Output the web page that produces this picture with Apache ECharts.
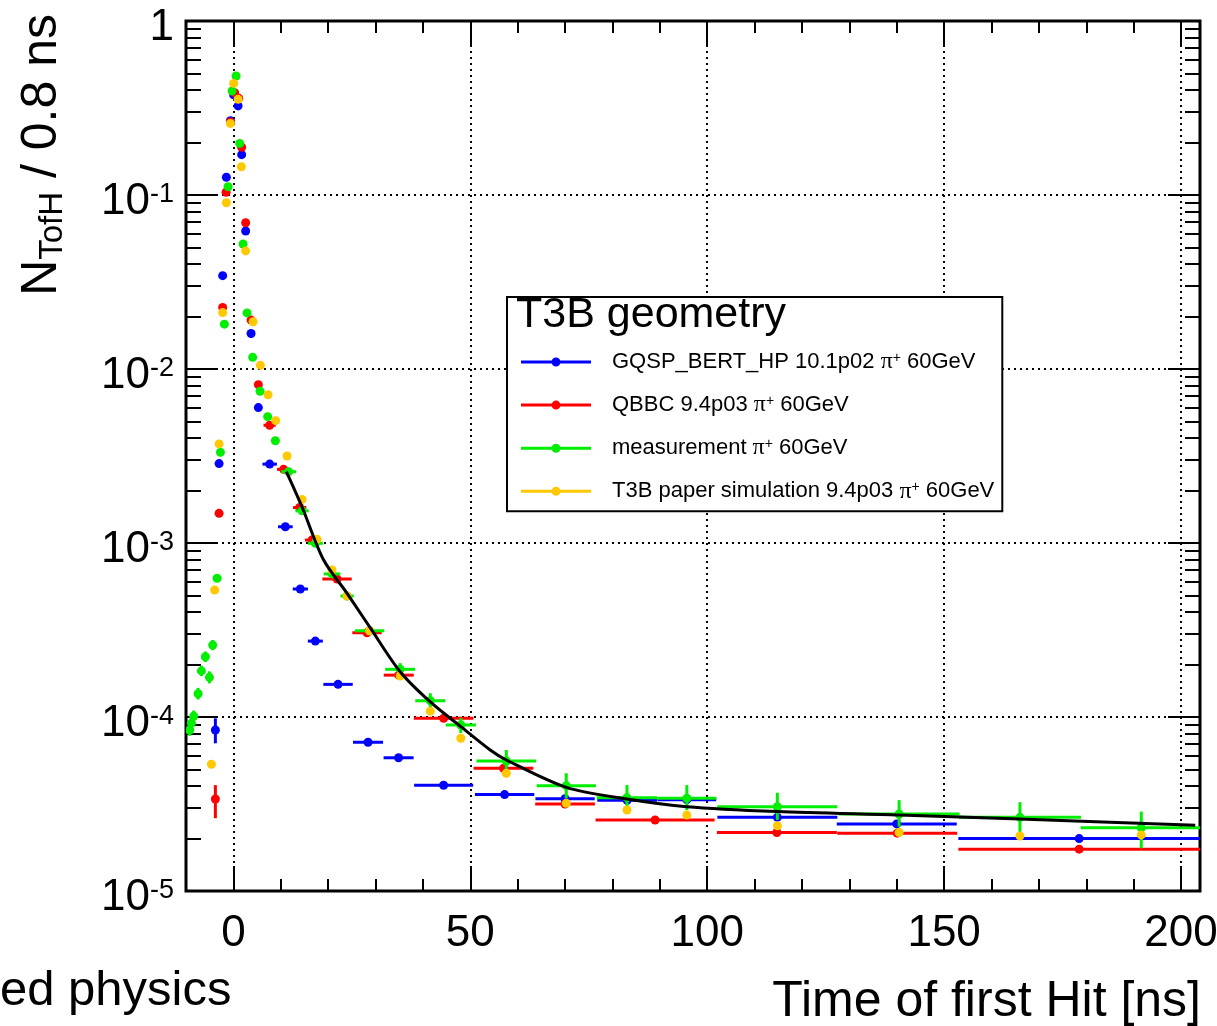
<!DOCTYPE html>
<html>
<head>
<meta charset="utf-8">
<script src="https://cdn.jsdelivr.net/npm/echarts@6/dist/echarts.min.js"></script>
<style>
html,body{margin:0;padding:0;background:#fff;}
#chart{width:1217px;height:1026px;}
</style>
</head>
<body>
<div id="chart"></div>
<script>
// ---- data: [time ns, N, x half-width, y low, y high] ----
const seriesNames = [
  'GQSP_BERT_HP 10.1p02 π⁺ 60GeV',
  'QBBC 9.4p03 π⁺ 60GeV',
  'measurement π⁺ 60GeV',
  'T3B paper simulation 9.4p03 π⁺ 60GeV'
];
const seriesColors = ['#0000ff', '#ff0000', '#00ee00', '#ffc800'];

const gqspData = [
  [-3.80, 8.42e-5, 0, 7.06e-5, 9.83e-5],
  [-3.02, 2.86e-3], [-2.26, 3.44e-2], [-1.48, 0.1264], [-0.63, 0.267],
  [0.06, 0.376], [0.99, 0.325], [1.75, 0.1705], [2.59, 0.0621],
  [3.73, 0.0160], [5.27, 6.0e-3],
  [7.66, 2.84e-3, 1.52], [10.97, 1.24e-3, 1.54], [14.13, 5.44e-4, 1.6],
  [17.3, 2.73e-4, 1.58], [22.09, 1.54e-4, 3.1], [28.42, 7.16e-5, 3.17],
  [34.87, 5.83e-5, 3.17], [44.37, 4.05e-5, 6.23], [57.24, 3.58e-5, 6.26],
  [70.0, 3.39e-5, 6.26], [83.1, 3.32e-5, 6.3], [95.7, 3.35e-5, 6.2],
  [114.8, 2.65e-5, 12.66], [140.0, 2.43e-5, 12.66], [178.5, 2.0e-5, 25.5]
];
const qbbcData = [
  [-3.80, 3.38e-5, 0, 2.62e-5, 4.06e-5],
  [-3.02, 1.48e-3], [-2.26, 2.26e-2], [-1.54, 0.1037], [-0.63, 0.263],
  [0.27, 0.387], [1.12, 0.36], [1.75, 0.188], [2.59, 0.0693],
  [3.73, 0.0191], [5.27, 8.13e-3],
  [7.66, 4.75e-3, 1.3], [10.6, 2.65e-3, 1.4], [13.99, 1.60e-3, 1.4],
  [16.6, 1.04e-3, 1.5], [21.88, 6.21e-4, 3.1], [28.2, 3.05e-4, 3.1],
  [34.9, 1.74e-4, 3.17], [44.37, 9.83e-5, 6.3], [57.0, 5.07e-5, 6.3],
  [70.0, 3.16e-5, 6.3], [89.0, 2.56e-5, 12.56], [114.7, 2.17e-5, 12.66],
  [140.1, 2.15e-5, 12.66], [178.5, 1.74e-5, 25.5]
];
const measurementData = [
  [-9.22, 8.42e-5, 0, 7.8e-5, 9.1e-5], [-8.86, 9.2e-5, 0, 8.5e-5, 9.9e-5],
  [-8.38, 1.01e-4, 0, 9.4e-5, 1.09e-4], [-7.45, 1.36e-4, 0, 1.26e-4, 1.47e-4],
  [-6.75, 1.84e-4, 0, 1.72e-4, 1.97e-4], [-5.91, 2.22e-4, 0, 2.07e-4, 2.38e-4],
  [-5.06, 1.69e-4, 0, 1.56e-4, 1.83e-4], [-4.37, 2.59e-4, 0, 2.42e-4, 2.77e-4],
  [-3.44, 6.27e-4], [-2.74, 3.32e-3], [-1.90, 1.81e-2], [-1.12, 0.1116],
  [-0.27, 0.396], [0.57, 0.483], [1.33, 0.198], [2.05, 0.0523],
  [2.89, 0.021], [4.07, 0.01167], [5.63, 7.45e-3], [7.24, 5.32e-3],
  [8.86, 3.87e-3],
  [11.67, 2.57e-3, 1.58], [14.49, 1.53e-3, 1.4], [17.3, 9.96e-4, 1.58],
  [20.82, 6.64e-4, 1.76], [23.99, 4.96e-4, 1.4], [28.76, 3.13e-4, 3.1],
  [35.2, 1.88e-4, 3.17, 1.70e-4, 2.04e-4], [41.56, 1.24e-4, 3.17, 1.14e-4, 1.37e-4],
  [48.0, 9.0e-5, 3.17, 8.09e-5, 9.86e-5], [57.6, 5.59e-5, 6.3, 4.96e-5, 6.46e-5],
  [70.25, 4.03e-5, 6.26, 3.41e-5, 4.75e-5], [83.06, 3.44e-5, 6.4, 2.92e-5, 4.06e-5],
  [95.7, 3.41e-5, 6.26, 2.92e-5, 4.06e-5], [114.8, 3.05e-5, 12.66, 2.56e-5, 3.67e-5],
  [140.5, 2.77e-5, 12.77, 2.34e-5, 3.33e-5], [166.0, 2.65e-5, 12.87, 2.15e-5, 3.24e-5],
  [191.6, 2.31e-5, 12.8, 1.76e-5, 2.86e-5]
];
const paperSimData = [
  [-4.64, 5.35e-5], [-3.95, 5.37e-4], [-3.02, 3.71e-3], [-2.26, 0.0211],
  [-1.48, 0.0903], [-0.63, 0.258], [0.06, 0.438], [0.99, 0.355],
  [1.69, 0.1454], [2.59, 0.0477], [4.16, 0.0187], [5.70, 0.0105],
  [7.32, 7.11e-3], [8.92, 5.05e-3], [11.33, 3.16e-3], [14.49, 1.78e-3],
  [17.66, 1.05e-3], [20.82, 7.0e-4], [23.99, 4.96e-4], [28.76, 3.13e-4],
  [35.2, 1.72e-4], [41.56, 1.08e-4], [48.0, 7.55e-5], [57.6, 4.75e-5],
  [70.25, 3.19e-5], [83.06, 2.92e-5], [95.7, 2.73e-5], [114.8, 2.37e-5],
  [140.5, 2.17e-5], [166.0, 2.07e-5], [191.6, 2.10e-5]
];
const fitCurve = [
  [11.18, 2.57e-3], [14.49, 1.61e-3], [19.05, 7.98e-4], [23.99, 5.14e-4],
  [28.9, 3.25e-4], [35.2, 1.82e-4], [41.56, 1.22e-4], [48.0, 8.8e-5],
  [54.2, 6.46e-5], [57.6, 5.66e-5], [70.25, 3.94e-5], [83.06, 3.38e-5],
  [95.7, 3.05e-5], [114.8, 2.86e-5], [140.5, 2.73e-5], [166.0, 2.59e-5],
  [203.0, 2.39e-5]
];

// ---- axis ticks / labels ----
const xLabels = [0, 50, 100, 150, 200];
const xMinorTicks = [-10, 0, 10, 20, 30, 40, 50, 60, 70, 80, 90, 100, 110, 120, 130, 140, 150, 160, 170, 180, 190, 200];
const yDecades = [1e-5, 1e-4, 1e-3, 1e-2, 1e-1, 1];
const yMinorMultipliers = [2, 3, 4, 5, 6, 7, 8, 9];
const yMinorTicks = [];
yDecades.slice(0, 5).forEach(d => yMinorMultipliers.forEach(m => yMinorTicks.push(+(d * m).toPrecision(3))));

const FONT = 'Liberation Sans';
const X_MIN = -10, X_MAX = 204, Y_MIN = 1e-5, Y_MAX = 1;

function pad(p) { return [p[0], p[1], p[2] || 0, p[3] || 0, p[4] || 0]; }

function renderPoint(params, api) {
  const x = api.value(0), y = api.value(1), xe = api.value(2), ylo = api.value(3), yhi = api.value(4);
  const color = api.visual('color');
  const c = api.coord([x, y]);
  const kids = [];
  if (xe > 0) {
    const a = api.coord([x - xe, y]), b = api.coord([x + xe, y]);
    kids.push({type: 'line', shape: {x1: a[0], y1: c[1], x2: b[0], y2: c[1]}, style: {stroke: color, lineWidth: 3}});
  }
  if (ylo > 0 && yhi > 0) {
    const lo = api.coord([x, ylo]), hi = api.coord([x, yhi]);
    kids.push({type: 'line', shape: {x1: c[0], y1: lo[1], x2: c[0], y2: hi[1]}, style: {stroke: color, lineWidth: 3}});
  }
  kids.push({type: 'circle', shape: {cx: c[0], cy: c[1], r: 4.5}, style: {fill: color}});
  return {type: 'group', children: kids};
}

const dataSets = [gqspData, qbbcData, measurementData, paperSimData];
const series = dataSets.map((d, i) => ({
  name: seriesNames[i],
  type: 'custom',
  renderItem: renderPoint,
  clip: true,
  itemStyle: {color: seriesColors[i]},
  encode: {x: 0, y: 1},
  data: d.map(pad),
  z: 3 + i
}));
series.push({
  name: 'fit',
  type: 'line',
  data: fitCurve,
  symbol: 'none',
  smooth: 0.3,
  clip: true,
  lineStyle: {color: '#000', width: 3},
  z: 10
});

const legendIcon = 'path://M0,3h70v3h-70z M30.5,4.5a4.5,4.5 0 1,1 9,0a4.5,4.5 0 1,1 -9,0z';
const dotted = {color: '#000', width: 2, type: [2, 4]};

function xAxisBase(pos) {
  return {
    type: 'value', position: pos, min: X_MIN, max: X_MAX,
    axisLine: {show: false, onZero: false},
    axisLabel: {show: false},
    splitLine: {show: false}
  };
}
function yAxisBase(pos) {
  return {
    type: 'log', logBase: 10, position: pos, min: Y_MIN, max: Y_MAX,
    axisLine: {show: false, onZero: false},
    axisLabel: {show: false},
    splitLine: {show: false}
  };
}

const xAxes = [
  Object.assign(xAxisBase('bottom'), {
    axisTick: {inside: true, length: 12, lineStyle: {color: '#000', width: 2}, customValues: xMinorTicks},
    axisLabel: {show: true, customValues: xLabels, fontSize: 44, fontFamily: FONT, color: '#000', margin: 21}
  }),
  Object.assign(xAxisBase('bottom'), {
    axisTick: {inside: true, length: 25, lineStyle: {color: '#000', width: 2}, customValues: xLabels},
    splitLine: {show: true, lineStyle: dotted}
  }),
  Object.assign(xAxisBase('top'), {
    axisTick: {inside: true, length: 12, lineStyle: {color: '#000', width: 2}, customValues: xMinorTicks}
  }),
  Object.assign(xAxisBase('top'), {
    axisTick: {inside: true, length: 25, lineStyle: {color: '#000', width: 2}, customValues: xLabels}
  })
];

const yAxes = [
  Object.assign(yAxisBase('left'), {
    axisTick: {inside: true, length: 32, lineStyle: {color: '#000', width: 2}, customValues: yDecades},
    axisLabel: {
      show: true, customValues: yDecades, margin: 12, color: '#000', fontFamily: FONT,
      showMinLabel: true, showMaxLabel: true,
      formatter: function (v) {
        const e = Math.round(Math.log10(v));
        return e === 0 ? '{b|1}' : '{b|10}{e|' + e + '}';
      },
      rich: {
        b: {fontSize: 44, lineHeight: 44, padding: [14, 0, 0, 0], fontFamily: FONT, color: '#000'},
        e: {fontSize: 27, lineHeight: 27, verticalAlign: 'top', padding: [8, 0, 0, 0], fontFamily: FONT, color: '#000'}
      }
    },
    splitLine: {show: true, lineStyle: dotted}
  }),
  Object.assign(yAxisBase('left'), {
    axisTick: {inside: true, length: 15, lineStyle: {color: '#000', width: 2}, customValues: yMinorTicks}
  }),
  Object.assign(yAxisBase('right'), {
    axisTick: {inside: true, length: 32, lineStyle: {color: '#000', width: 2}, customValues: yDecades}
  }),
  Object.assign(yAxisBase('right'), {
    axisTick: {inside: true, length: 15, lineStyle: {color: '#000', width: 2}, customValues: yMinorTicks}
  })
];

const chart = echarts.init(document.getElementById('chart'), null, {renderer: 'canvas'});
chart.setOption({
  animation: false,
  backgroundColor: '#fff',
  textStyle: {fontFamily: FONT},
  grid: {
    left: 186, right: 17, top: 21, bottom: 135,
    show: true, borderColor: '#000', borderWidth: 3, backgroundColor: 'transparent',
    containLabel: false, outerBoundsMode: 'none'
  },
  title: [
    {text: 'T3B geometry', left: 516, top: 294, padding: 0,
     textStyle: {fontSize: 43, fontWeight: 'normal', fontFamily: FONT, color: '#000'}},
    {text: 'Time of first Hit [ns]', right: 16, top: 977, padding: 0,
     textStyle: {fontSize: 50, fontWeight: 'normal', fontFamily: FONT, color: '#000'}},
    {text: 'ed physics', left: 0, top: 967, padding: 0,
     textStyle: {fontSize: 49, fontWeight: 'normal', fontFamily: FONT, color: '#000'}}
  ],
  legend: {
    orient: 'vertical', left: 507, top: 297,
    padding: [53, 8, 8, 14],
    itemWidth: 70, itemHeight: 9, itemGap: 19.1,
    borderColor: '#000', borderWidth: 2, backgroundColor: '#fff',
    selectedMode: false,
    data: seriesNames.map(n => ({name: n, icon: legendIcon})),
    formatter: function (name) { return name.replace('π⁺', '{p|π}{s|+}'); },
    textStyle: {
      fontSize: 22, lineHeight: 22, color: '#000', fontFamily: FONT, padding: [0, 0, 0, 16],
      rich: {
        p: {fontFamily: 'Liberation Serif', fontSize: 24, lineHeight: 22, color: '#000'},
        s: {fontFamily: FONT, fontSize: 14, lineHeight: 14, verticalAlign: 'top', color: '#000'}
      }
    }
  },
  graphic: [{
    type: 'text', left: 17, top: 14, rotation: Math.PI / 2,
    style: {
      text: '{n|N}{s|TofH}{n| / 0.8 ns}',
      fill: '#000',
      rich: {
        n: {fontSize: 50, lineHeight: 54, fontFamily: FONT, fill: '#000', color: '#000'},
        s: {fontSize: 33, lineHeight: 33, verticalAlign: 'bottom', fontFamily: FONT, fill: '#000', color: '#000'}
      }
    }
  }],
  xAxis: xAxes,
  yAxis: yAxes,
  series: series
});
</script>
</body>
</html>
